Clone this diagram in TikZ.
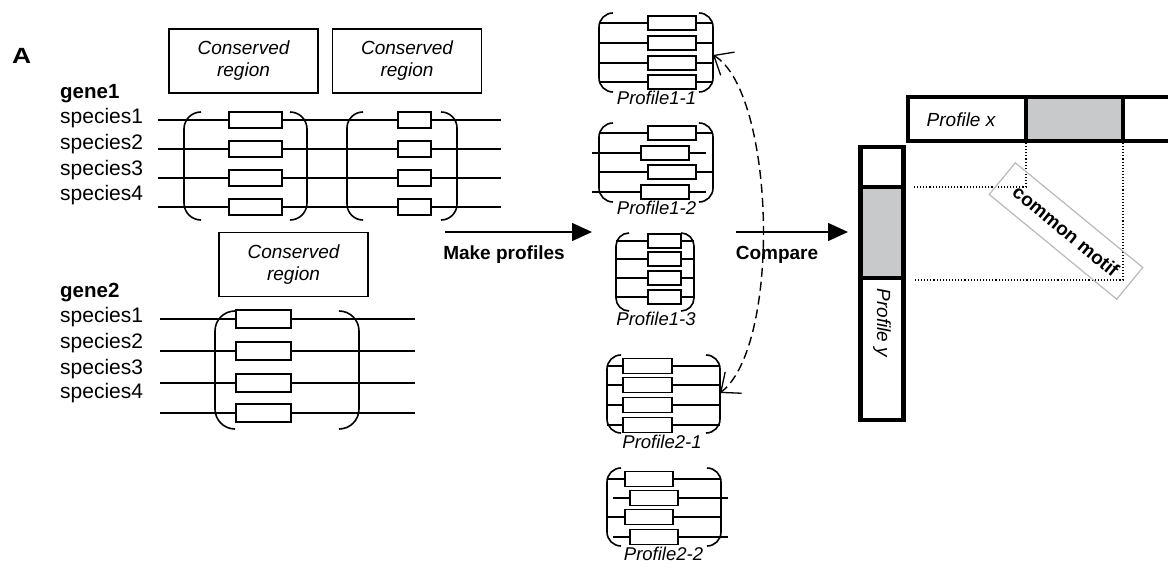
\documentclass[tikz,border=0pt]{standalone}
\usepackage{fontspec}
\setmainfont{Liberation Sans}
\usetikzlibrary{arrows.meta}

\definecolor{motifgray}{RGB}{200,201,202}
\definecolor{framegray}{RGB}{185,185,185}

% one aligned block of sequences: left and right round brackets
\newcommand{\blockbrackets}[5]{% left x, right x, top y, bottom y, radius
  \draw[brk] ({#1+#5},#3) to[out=180,in=90] (#1,{#3+#5}) -- (#1,{#4-#5}) to[out=-90,in=180] ({#1+#5},#4);
  \draw[brk] ({#2-#5},#3) to[out=0,in=90] (#2,{#3+#5}) -- (#2,{#4-#5}) to[out=-90,in=0] ({#2-#5},#4);
}
% one sequence line
\newcommand{\seqline}[3]{% y, x from, x to
  \draw[seq] (#2,#1) -- (#3,#1);
}
% one conserved segment on a sequence line
\newcommand{\segbox}[4]{% x from, x to, y, half height
  \draw[seg] (#1,{#3-#4}) rectangle (#2,{#3+#4});
}

\begin{document}
\begin{tikzpicture}[x=1pt,y=-1pt,
  seq/.style={line width=1.5pt},
  seg/.style={line width=1.7pt, fill=white},
  brk/.style={line width=1.6pt},
  regionbox/.style={draw, line width=1.3pt, minimum width=149pt, minimum height=64pt,
    inner sep=0pt, align=center, font=\fontsize{19}{22}\selectfont\itshape},
  speclabel/.style={anchor=base west, inner sep=0pt, font=\fontsize{21}{25}\selectfont},
  genelabel/.style={anchor=base west, inner sep=0pt, font=\fontsize{20.5}{25}\selectfont\bfseries},
  proflabel/.style={anchor=base, inner sep=0pt, font=\fontsize{18.5}{22}\selectfont\itshape},
  steplabel/.style={inner sep=0pt, font=\fontsize{19}{22}\selectfont\bfseries},
  steparrow/.style={line width=1.5pt, -{Triangle[length=20pt,width=18pt]}},
  twoway/.style={line width=1.4pt, dash pattern=on 9pt off 5pt,
    {Straight Barb[length=16pt,width=27pt,line width=1.3pt]}-{Straight Barb[length=16pt,width=27pt,line width=1.3pt]}},
  bar/.style={line width=4.3pt},
  guide/.style={line width=1.1pt, dotted},
]
\useasboundingbox (0,0) rectangle (1168,569);

% panel letter
\node[inner sep=0pt, anchor=base west, font=\fontsize{22}{26}\selectfont\bfseries] (panelA) at (12,63.5) {\scalebox{1.2}[1]{A}};

% ---------------- gene1 ----------------
\node[regionbox] (cr1) at (243.5,61) {Conserved\\region};
\node[regionbox] (cr2) at (407,61) {Conserved\\region};

\node[genelabel] (g1) at (60,99) {gene1};
\node[speclabel] (g1s1) at (60,124) {species1};
\node[speclabel] (g1s2) at (60,150) {species2};
\node[speclabel] (g1s3) at (60,176) {species3};
\node[speclabel] (g1s4) at (60,201) {species4};

\foreach \y in {120,149,178,207} {
  \seqline{\y}{158}{501}
}
\blockbrackets{184}{307}{112}{220}{17}
\blockbrackets{347}{457}{112}{220}{16}
\foreach \y in {120,149,178,207} {
  \segbox{229}{282}{\y}{8}
  \segbox{398}{431}{\y}{8}
}

% ---------------- gene2 ----------------
\node[regionbox] (cr3) at (293.5,264.5) {Conserved\\region};

\node[genelabel] (g2) at (60,298) {gene2};
\node[speclabel] (g2s1) at (60,323) {species1};
\node[speclabel] (g2s2) at (60,349) {species2};
\node[speclabel] (g2s3) at (60,374) {species3};
\node[speclabel] (g2s4) at (60,399) {species4};

\foreach \y in {319,351,383,413} {
  \seqline{\y}{160}{415}
}
\blockbrackets{215}{359}{311}{429}{20}
\foreach \y in {319,351,383,413} {
  \segbox{236}{291}{\y}{9}
}

% ---------------- step arrows ----------------
\coordinate (mkfrom) at (445,232);
\coordinate (mkto) at (592,232);
\draw[steparrow] (mkfrom) -- (mkto);
\node[steplabel] (mklabel) at (504,255) {Make profiles};

\coordinate (cmpfrom) at (736,232);
\coordinate (cmpto) at (848,232);
\draw[steparrow] (cmpfrom) -- (cmpto);
\node[steplabel] (cmplabel) at (777,255) {Compare};

% ---------------- profiles ----------------
% Profile1-1
\foreach \y in {23,43,63,82} { \seqline{\y}{599}{713} }
\blockbrackets{599}{713}{13}{92}{14}
\foreach \y in {23,43,63,82} { \segbox{648}{696}{\y}{7.3} }
\node[proflabel] (p11) at (656.5,105) {Profile1-1};

% Profile1-2
\seqline{133}{599}{713}
\seqline{153}{592}{706}
\seqline{172}{599}{713}
\seqline{192}{592}{706}
\blockbrackets{599}{713}{123}{202}{14}
\segbox{648}{696}{133}{7.3}
\segbox{641}{689}{153}{7.3}
\segbox{648}{696}{172}{7.3}
\segbox{641}{689}{192}{7.3}
\node[proflabel] (p12) at (656.5,215) {Profile1-2};

% Profile1-3
\foreach \y in {241,259,278,297} { \seqline{\y}{616}{694} }
\blockbrackets{616}{694}{233}{311}{13}
\foreach \y in {241,259,278,297} { \segbox{648}{681}{\y}{7} }
\node[proflabel] (p13) at (656,326) {Profile1-3};

% Profile2-1
\foreach \y in {366,385,405,425} { \seqline{\y}{607}{720} }
\blockbrackets{607}{720}{355}{433}{14}
\foreach \y in {366,385,405,425} { \segbox{623}{672}{\y}{7.5} }
\node[proflabel] (p21) at (662,448) {Profile2-1};

% Profile2-2
\seqline{479}{607}{721}
\seqline{498}{613}{728}
\seqline{517}{607}{721}
\seqline{537}{613}{728}
\blockbrackets{607}{721}{468}{546}{14}
\segbox{625}{673}{479}{7.5}
\segbox{630}{678}{498}{7.5}
\segbox{625}{673}{517}{7.5}
\segbox{630}{678}{537}{7.5}
\node[proflabel] (p22) at (663.5,560) {Profile2-2};

% pairwise comparison between two profiles
\coordinate (p11side) at (713,55);
\coordinate (p21side) at (720,393);
\draw[twoway] (p11side) .. controls (775,92) and (782,345) .. (p21side);

% ---------------- profile comparison ----------------
% profile x along the top
\fill[motifgray] (1026,97) rectangle (1123,141);
\draw[bar] (1180,97) -- (908,97) -- (908,141) -- (1180,141);
\draw[bar] (1026,97) -- (1026,141);
\draw[bar] (1123,97) -- (1123,141);
\node[inner sep=0pt, font=\fontsize{19}{22}\selectfont\itshape] (px) at (961,120) {Profile x};

% profile y down the side
\fill[motifgray] (860.5,187) rectangle (903.5,278);
\draw[bar] (860.5,147) rectangle (903.5,420);
\draw[bar] (860.5,187) -- (903.5,187);
\draw[bar] (860.5,278) -- (903.5,278);
\node[inner sep=0pt, rotate=-90, font=\fontsize{19}{22}\selectfont\itshape] (py) at (882,323) {Profile y};

% projections of the shared segment
\draw[guide] (1026,143) -- (1026,187) -- (913,187);
\draw[guide] (1123,143) -- (1123,280) -- (913,280);

\node[draw=framegray, line width=1.2pt,
      minimum width=165pt, minimum height=41pt, inner sep=0pt, rotate=-39.4,
      font=\fontsize{19}{22}\selectfont\bfseries] (motif) at (1066,231) {common motif};
\end{tikzpicture}
\end{document}
